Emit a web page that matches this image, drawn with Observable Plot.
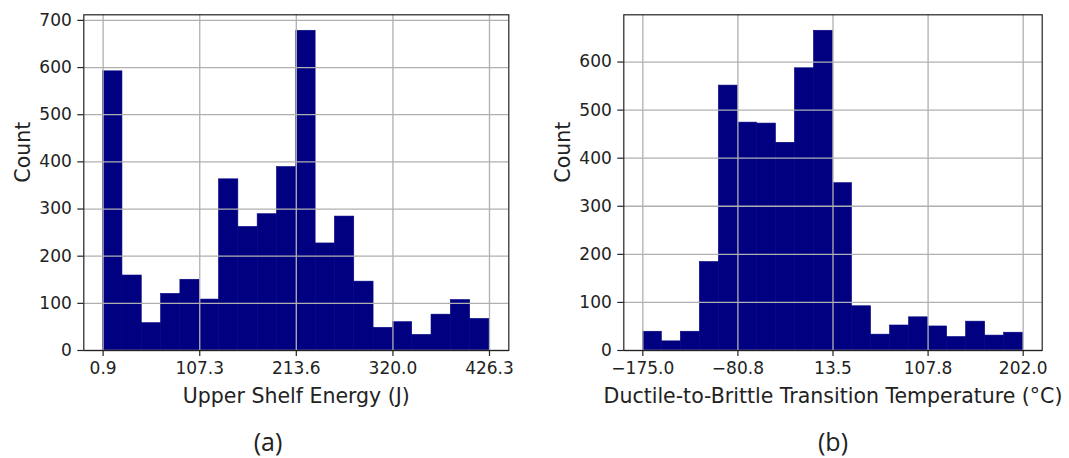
<!DOCTYPE html>
<html><head><meta charset="utf-8">
<script src="https://cdn.jsdelivr.net/npm/d3@7"></script>
<script src="https://cdn.jsdelivr.net/npm/@observablehq/plot@0.6"></script>
<style>
body{margin:0;background:#fff;}
#wrap{position:relative;width:1069px;height:458px;overflow:hidden;background:#fff;}
.panel{position:absolute;top:0;}
.cap{position:absolute;font-family:"Open Sans";font-size:25px;color:#222;transform:translateX(-50%);line-height:25px;white-space:nowrap;}
</style></head><body>
<div id="wrap">
  <div id="pa" class="panel" style="left:0px"></div>
  <div id="pb" class="panel" style="left:540px"></div>
  <div id="ca" class="cap" style="left:268px;top:429px"></div>
  <div id="cb" class="cap" style="left:833px;top:429px"></div>
</div>
<script>
// ---- Data ----
const rangeA = [0.9, 426.3];           // histogram range, 20 equal bins
const countsA = [592,159,58,120,150,108,363,262,289,389,678,227,284,146,48,60,33,76,107,67];
const xTicksA = [0.9, 107.3, 213.6, 320.0, 426.3];
const xTickLabelsA = ["0.9","107.3","213.6","320.0","426.3"];
const yTicksA = [0,100,200,300,400,500,600,700];
const xLabelA = "Upper Shelf Energy (J)";

const rangeB = [-175.0, 202.0];
const countsB = [39,19,39,184,551,474,472,432,587,665,348,92,33,52,69,50,28,60,31,37];
const xTicksB = [-175.0, -80.75, 13.5, 107.75, 202.0];
const xTickLabelsB = ["\u2212175.0","\u221280.8","13.5","107.8","202.0"];
const yTicksB = [0,100,200,300,400,500,600];
const xLabelB = "Ductile-to-Brittle Transition Temperature (\u00B0C)";

const yLabel = "Count";
const captions = ["(a)", "(b)"];

const barColor = "#000080";
const gridColor = "#b0b0b0";
const inkColor = "#222";

function bins(range, counts) {
  const w = (range[1] - range[0]) / counts.length;
  return counts.map((c, i) => ({x1: range[0] + i * w, x2: range[0] + (i + 1) * w, count: c}));
}

function panel({range, counts, xTicks, xTickLabels, yTicks, xLabel, width, marginRight}) {
  const data = bins(range, counts);
  const span = range[1] - range[0];
  const ymax = d3.max(counts) * 1.05;
  const labelMap = new Map(xTicks.map((t, i) => [t, xTickLabels[i]]));
  return Plot.plot({
    width, height: 458,
    marginLeft: 83.3, marginRight, marginTop: 14.3, marginBottom: 108,
    style: {fontFamily: "DejaVu Sans", fontSize: "17px", color: inkColor, background: "white"},
    x: {domain: [range[0] - 0.05 * span, range[1] + 0.05 * span]},
    y: {domain: [0, ymax]},
    marks: [
      Plot.rectY(data, {x1: "x1", x2: "x2", y: "count", fill: barColor, stroke: barColor, strokeWidth: 0.6}),
      Plot.gridX({ticks: xTicks, stroke: gridColor, strokeOpacity: 1, strokeWidth: 1.3}),
      Plot.gridY({ticks: yTicks, stroke: gridColor, strokeOpacity: 1, strokeWidth: 1.3}),
      Plot.frame({stroke: inkColor, strokeWidth: 1.2}),
      Plot.axisX({ticks: xTicks, tickFormat: d => labelMap.get(d), tickSize: 6, tickPadding: 5, label: null, fontSize: 17, stroke: inkColor, strokeWidth: 1.2}),
      Plot.axisY({ticks: yTicks, tickSize: 6, tickPadding: 6, label: null, fontSize: 17, stroke: inkColor, strokeWidth: 1.2}),
      Plot.text([xLabel], {frameAnchor: "bottom", dy: 38, lineAnchor: "top", fontSize: 20.5, fill: inkColor}),
      Plot.text([yLabel], {frameAnchor: "left", dx: -60.6, rotate: -90, lineAnchor: "middle", fontSize: 20.5, fill: inkColor})
    ]
  });
}

document.getElementById("pa").appendChild(panel({range: rangeA, counts: countsA, xTicks: xTicksA, xTickLabels: xTickLabelsA, yTicks: yTicksA, xLabel: xLabelA, width: 540, marginRight: 31.7}));
document.getElementById("pb").appendChild(panel({range: rangeB, counts: countsB, xTicks: xTicksB, xTickLabels: xTickLabelsB, yTicks: yTicksB, xLabel: xLabelB, width: 529, marginRight: 27.3}));
document.getElementById("ca").textContent = captions[0];
document.getElementById("cb").textContent = captions[1];
</script>
</body></html>
